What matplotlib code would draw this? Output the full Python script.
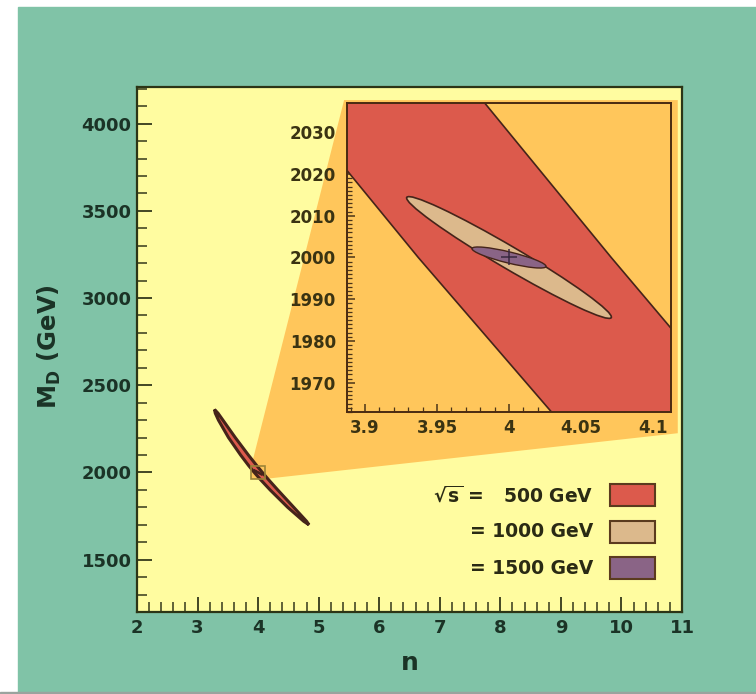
import numpy as np
import matplotlib
matplotlib.use("Agg")
import matplotlib.pyplot as plt
from matplotlib.patches import Rectangle, Circle, Polygon
from matplotlib.transforms import Affine2D
from matplotlib.ticker import MultipleLocator, FuncFormatter

# sqrt(s) = 500 GeV allowed region: left/right edge in n for each M_D
md_500 = [2361, 2340, 2300, 2200, 2100, 2040, 2000, 1960, 1900, 1800, 1720, 1700]
n_lo_500 = [3.280, 3.2925, 3.345, 3.511, 3.711, 3.842, 3.937, 4.037, 4.198, 4.489, 4.753, 4.840]
n_hi_500 = [3.280, 3.3375, 3.419, 3.623, 3.839, 3.976, 4.071, 4.169, 4.324, 4.589, 4.801, 4.840]

# 1000 / 1500 GeV ellipses: centre, half-major and half-minor vectors in (n, M_D)
best_fit = (4.0, 2000.0)
axes_1000 = [(0.071, -14.4), (0.0039, 2.3)]
axes_1500 = [(0.0257, -2.16), (0.0009, 1.3)]

# zoom window shown in the inset
zoom_n = (3.8875, 4.1125)
zoom_md = (1963, 2037)

# shaded fan joining the zoom window to the inset
fan_n = [3.8875, 3.8875, 5.42, 10.93, 10.93, 4.1125]
fan_md = [1963, 2037, 4135, 4135, 2225, 1963]

legend_labels = [r"$\sqrt{s}$ =   500 GeV", "= 1000 GeV", "= 1500 GeV"]

GREEN = "#80c3a7"
YELLOW = "#fffca0"
ORANGE = "#ffc65b"
RED = "#dc5a4c"
TAN = "#dcb98c"
PURPLE = "#8a6486"
EDGE = "#45241a"
colors = [RED, TAN, PURPLE]

plt.rcParams["font.family"] = ["DejaVu Sans"]
plt.rcParams["font.weight"] = "bold"
plt.rcParams["mathtext.fontset"] = "dejavusans"
plt.rcParams["mathtext.default"] = "bf"


def add_ellipse(ax, centre, vecs, **kw):
    (a1, a2), (b1, b2) = vecs
    tr = Affine2D(np.array([[a1, b1, centre[0]], [a2, b2, centre[1]], [0, 0, 1]]))
    ax.add_patch(Circle((0, 0), 1, transform=tr + ax.transData, **kw))


def draw_regions(ax, lw):
    xs = np.concatenate([n_lo_500, n_hi_500[::-1]])
    ys = np.concatenate([md_500, md_500[::-1]])
    ax.add_patch(Polygon(np.column_stack([xs, ys]), closed=True,
                         facecolor=RED, edgecolor=EDGE, lw=lw, zorder=2))
    add_ellipse(ax, best_fit, axes_1000, facecolor=TAN, edgecolor=EDGE,
                lw=min(lw, 1.2), zorder=3)
    add_ellipse(ax, best_fit, axes_1500, facecolor=PURPLE, edgecolor=EDGE,
                lw=min(lw, 1.0), zorder=4)


fig = plt.figure(figsize=(7.56, 6.94), dpi=100)
fig.patch.set_facecolor("white")
fig.patches.append(Rectangle((18 / 756, 2 / 694), 1, 1 - 9 / 694,
                             transform=fig.transFigure, color=GREEN, zorder=-10))
fig.patches.append(Rectangle((0, 0), 1, 2 / 694, transform=fig.transFigure,
                             color="#9aa39e", zorder=-10))

# main panel
ax = fig.add_axes([137 / 756, 1 - 612 / 694, 545 / 756, 525 / 694])
ax.set_facecolor(YELLOW)
ax.set_xlim(2, 11)
ax.set_ylim(1200, 4210)
ax.add_patch(Polygon(np.column_stack([fan_n, fan_md]), closed=True,
                     facecolor=ORANGE, edgecolor="none", zorder=1))
draw_regions(ax, 2.2)
ax.add_patch(Rectangle((zoom_n[0], zoom_md[0]), zoom_n[1] - zoom_n[0],
                       zoom_md[1] - zoom_md[0], fill=False,
                       edgecolor="#9c8438", lw=1.2, zorder=5))

ax.xaxis.set_major_locator(MultipleLocator(1))
ax.xaxis.set_minor_locator(MultipleLocator(0.2))
ax.yaxis.set_major_locator(MultipleLocator(500))
ax.yaxis.set_minor_locator(MultipleLocator(100))
ax.tick_params(which="both", direction="in", top=False, right=False,
               color="#34381a", labelcolor="#1b3326", labelsize=13)
ax.tick_params(which="major", length=11, width=1.3)
ax.tick_params(which="minor", length=7, width=1.1)
ax.tick_params(axis="x", pad=5)
ax.tick_params(axis="y", pad=4)
for s in ax.spines.values():
    s.set_color("#2c3516")
    s.set_linewidth(1.6)

ax.text(0.5, -0.097, "n", transform=ax.transAxes, ha="center", va="center",
        fontsize=18, color="#1b3326")
ax.text(-0.16, 0.505, r"M$_{D}$ (GeV)", transform=ax.transAxes, rotation=90,
        ha="center", va="center", fontsize=17.5, color="#1b3326")

# legend drawn by hand: labels on the left, colour boxes on the right
row_y = [0.2229, 0.1524, 0.0838]
for label, c, y in zip(legend_labels, colors, row_y):
    ax.text(0.8367, y, label, transform=ax.transAxes, ha="right", va="center",
            fontsize=13.5, color="#2a2a14", zorder=6)
    ax.add_patch(Rectangle((0.868, y - 0.021), 0.0826, 0.042,
                           transform=ax.transAxes, facecolor=c,
                           edgecolor="#5b3b1e", lw=1.5, zorder=6))

# inset: zoom around the best fit point
ax_in = fig.add_axes([347 / 756, 1 - 412 / 694, 324 / 756, 309 / 694])
ax_in.set_facecolor(ORANGE)
ax_in.set_xlim(*zoom_n)
ax_in.set_ylim(*zoom_md)
draw_regions(ax_in, 1.2)
ax_in.plot(*best_fit, marker="+", ms=12, mew=1.1, color="#3a2840", zorder=5)

ax_in.xaxis.set_major_locator(MultipleLocator(0.05))
ax_in.xaxis.set_minor_locator(MultipleLocator(0.01))
ax_in.yaxis.set_major_locator(MultipleLocator(10))
ax_in.yaxis.set_minor_locator(MultipleLocator(1))
ax_in.xaxis.set_major_formatter(FuncFormatter(lambda v, p: f"{v:g}"))
ax_in.tick_params(which="both", direction="in", top=False, right=False,
                  color="#4a3418", labelcolor="#3a3312", labelsize=12)
ax_in.tick_params(which="major", length=6, width=1.1)
ax_in.tick_params(which="minor", length=3.5, width=0.9)
ax_in.tick_params(axis="x", pad=5)
ax_in.tick_params(axis="y", pad=8)
for s in ax_in.spines.values():
    s.set_color("#4a2a12")
    s.set_linewidth(1.4)

fig.savefig("out.png", dpi=100)
